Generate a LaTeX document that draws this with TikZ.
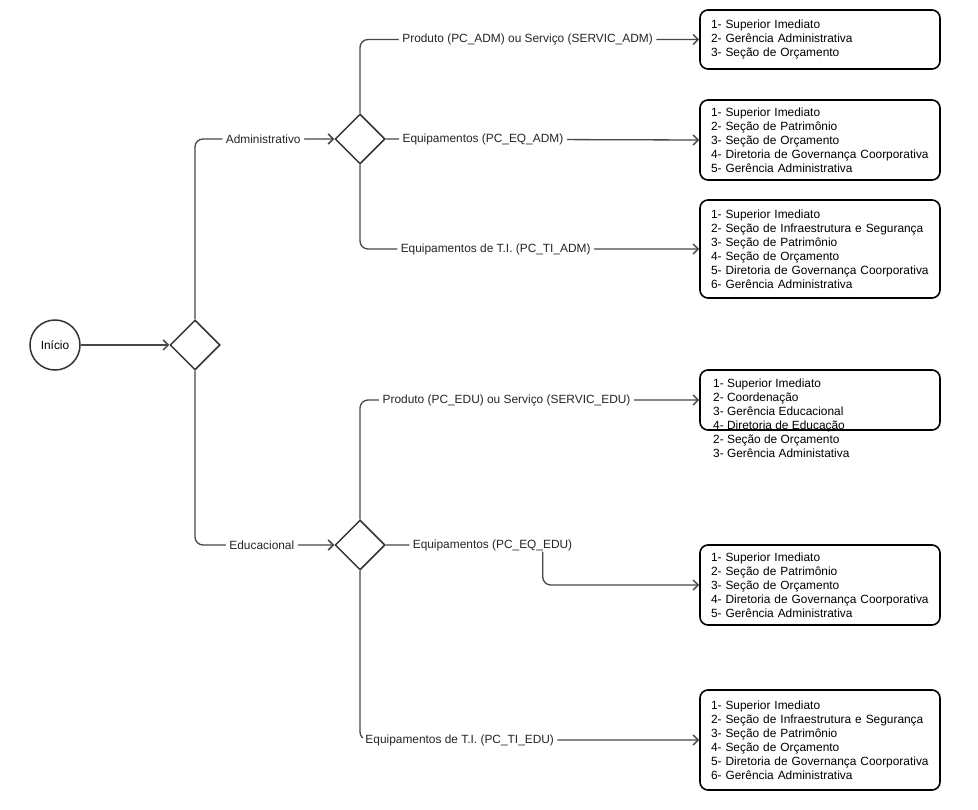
\documentclass[tikz,border=0pt]{standalone}
\usepackage{fontspec}
\setmainfont{Liberation Sans}
\usetikzlibrary{arrows.meta, shapes.geometric}

\begin{document}
\begin{tikzpicture}
	[%
	x=1pt, y=-1pt,%
	font=\fontsize{11.9}{14}\selectfont,%
	inicio/.style ={circle,		draw=black!80,	line width=1.5pt,	inner sep=0pt,	minimum size=50pt},%
	decisao/.style={diamond,	draw=black!80,	line width=1.5pt,	inner sep=0pt,	minimum width=50pt,	minimum height=50pt},%
	resp/.style   ={rectangle,	draw=black,		line width=1.6pt,	rounded corners=8pt,	inner xsep=11pt,	inner ysep=0pt,	text width=218pt,	align=left},%
	lista/.style  ={inner sep=0pt,	align=left},%
	conn/.style   ={draw=black!72,	line width=1.3pt,	rounded corners=8pt,	-{Straight Barb[length=5pt,width=10pt,line width=1.5pt]}},%
	rotulo/.style ={fill=white,	inner xsep=3.5pt,	inner ysep=1pt,	text=black!85},%
	]

	\useasboundingbox (0,0) rectangle (978,810);

	\newcommand\xini{55}
	\newcommand{\xdec}{195}
	\newcommand{\xsub}{360}
	\newcommand{\xresp}{820}

	% nodes
	\node (inicio) at (\xini,345) [inicio] {Início};
	\node (dec0) at (\xdec,345) [decisao] {};
	\node (decadm) at (\xsub,139) [decisao] {};
	\node (decedu) at (\xsub,545) [decisao] {};

	\node (respadm1) at (\xresp,39.5) [resp, minimum height=59pt] {1- Superior Imediato\\2- Gerência Administrativa\\3- Seção de Orçamento};
	\node (respadm2) at (\xresp,140) [resp, minimum height=80pt] {1- Superior Imediato\\2- Seção de Patrimônio\\3- Seção de Orçamento\\4- Diretoria de Governança Coorporativa\\5- Gerência Administrativa};
	\node (respadm3) at (\xresp,249) [resp, minimum height=98pt] {1- Superior Imediato\\2- Seção de Infraestrutura e Segurança\\3- Seção de Patrimônio\\4- Seção de Orçamento\\5- Diretoria de Governança Coorporativa\\6- Gerência Administrativa};

	\node (respedu1) at (\xresp,400) [resp, minimum height=60pt] {};
	\node (listaedu1) at (713,379) [lista, anchor=north west] {1- Superior Imediato\\2- Coordenação\\3- Gerência Educacional\\4- Diretoria de Educação\\2- Seção de Orçamento\\3- Gerência Administativa};
	\node (respedu2) at (\xresp,585) [resp, minimum height=80pt] {1- Superior Imediato\\2- Seção de Patrimônio\\3- Seção de Orçamento\\4- Diretoria de Governança Coorporativa\\5- Gerência Administrativa};
	\node (respedu3) at (\xresp,740) [resp, minimum height=100pt] {1- Superior Imediato\\2- Seção de Infraestrutura e Segurança\\3- Seção de Patrimônio\\4- Seção de Orçamento\\5- Diretoria de Governança Coorporativa\\6- Gerência Administrativa};

	% interconnections
	\draw [conn] (inicio) -- (dec0);

	\draw [conn] (dec0.north) |- node [rotulo, pos=0.745] {Administrativo} (decadm.west);
	\draw [conn] (dec0.south) |- node [rotulo, pos=0.74] {Educacional} (decedu.west);

	\draw [conn] (decadm.north) |- node [rotulo, pos=0.747] {Produto (PC\_ADM) ou Serviço (SERVIC\_ADM)} (respadm1.west);
	\draw [conn] (decadm.east) -- node [rotulo, pos=0.31] {Equipamentos (PC\_EQ\_ADM)} (respadm2.west);
	\draw [conn] (decadm.south) |- node [rotulo, pos=0.70] {Equipamentos de T.I. (PC\_TI\_ADM)} (respadm3.west);

	\draw [conn] (decedu.north) |- node [rotulo, pos=0.716] {Produto (PC\_EDU) ou Serviço (SERVIC\_EDU)} (respedu1.west);
	\draw [conn] (decedu.east) -- node [rotulo, pos=0.68] {Equipamentos (PC\_EQ\_EDU)} ++(157,0) |- (respedu2.west);
	\draw [conn] (decedu.south) |- node [rotulo, pos=0.647] {Equipamentos de T.I. (PC\_TI\_EDU)} (respedu3.west);

\end{tikzpicture}
\end{document}
